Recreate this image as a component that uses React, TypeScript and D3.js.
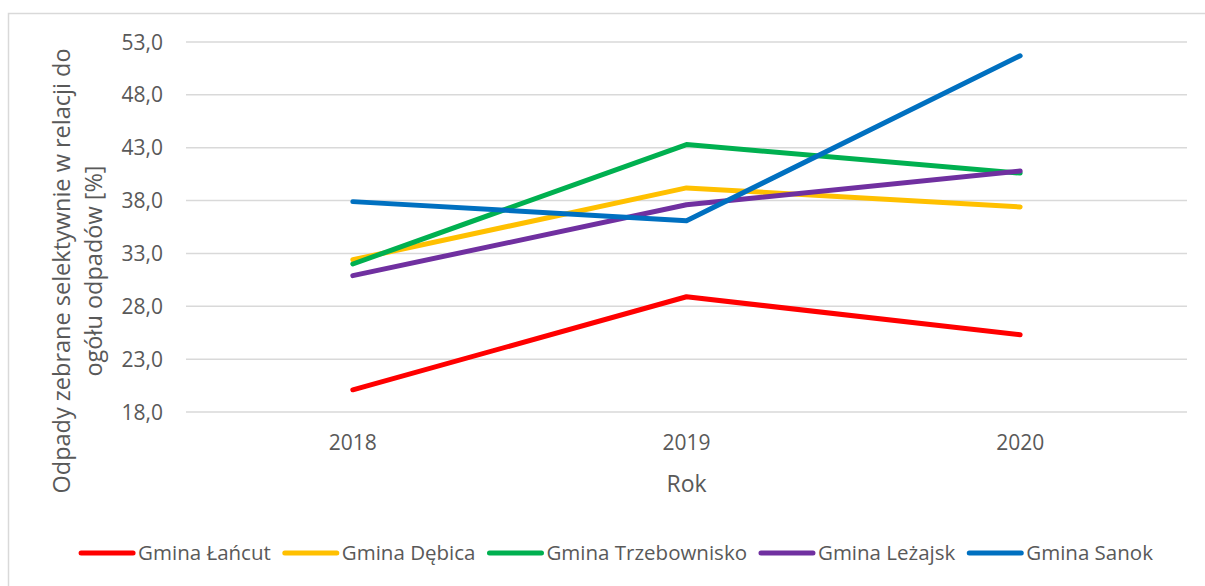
import React, { useEffect, useRef } from "react";
import * as d3 from "d3";

const years = ["2018", "2019", "2020"];
const seriesNames = ["Gmina Łańcut", "Gmina Dębica", "Gmina Trzebownisko", "Gmina Leżajsk", "Gmina Sanok"];
const seriesColors = ["#FF0000", "#FFC000", "#00B050", "#7030A0", "#0070C0"];
const lancut = [20.1, 28.9, 25.3];
const debica = [32.4, 39.2, 37.4];
const trzebownisko = [32.0, 43.3, 40.6];
const lezajsk = [30.9, 37.6, 40.8];
const sanok = [37.9, 36.1, 51.7];
const yTicks = [18, 23, 28, 33, 38, 43, 48, 53];
const yTitle = ["Odpady zebrane selektywnie w relacji do", "ogółu odpadów [%]"];
const xTitle = "Rok";

const W = 1205;
const H = 586;
const FONT = "'Open Sans', sans-serif";
const TEXT = "#595959";
const GRID = "#D9D9D9";

export default function App() {
  const ref = useRef<SVGSVGElement | null>(null);

  useEffect(() => {
    const svg = d3.select(ref.current);
    svg.selectAll("*").remove();
    const values = [lancut, debica, trzebownisko, lezajsk, sanok];

    const x = d3.scalePoint<string>().domain(years).range([186, 1187]).padding(0.5);
    const y = d3.scaleLinear().domain([18, 53]).range([412, 42]);

    // chart frame
    svg.append("rect").attr("x", 8.5).attr("y", 13.5).attr("width", 1210).attr("height", 590)
      .attr("fill", "#fff").attr("stroke", GRID).attr("stroke-width", 1.5);

    // grid
    svg.append("g").selectAll("line").data(yTicks).join("line")
      .attr("x1", 186).attr("x2", 1187)
      .attr("y1", (d) => y(d)).attr("y2", (d) => y(d))
      .attr("stroke", GRID).attr("stroke-width", 1.5);

    // y tick labels
    svg.append("g").selectAll("text").data(yTicks).join("text")
      .attr("x", 163).attr("y", (d) => y(d))
      .attr("dy", "0.36em")
      .attr("text-anchor", "end")
      .attr("font-family", FONT).attr("font-size", 21).attr("fill", TEXT)
      .text((d) => d.toFixed(1).replace(".", ","));

    // x labels
    svg.append("g").selectAll("text").data(years).join("text")
      .attr("x", (d) => x(d)!).attr("y", 450)
      .attr("text-anchor", "middle")
      .attr("font-family", FONT).attr("font-size", 21).attr("fill", TEXT)
      .text((d) => d);

    // x title
    svg.append("text").attr("x", (186 + 1187) / 2).attr("y", 492)
      .attr("text-anchor", "middle")
      .attr("font-family", FONT).attr("font-size", 23).attr("fill", TEXT)
      .text(xTitle);

    // y title
    const yt = svg.append("text")
      .attr("transform", "translate(0,271) rotate(-90)")
      .attr("text-anchor", "middle")
      .attr("font-family", FONT).attr("font-size", 23.5).attr("fill", TEXT);
    yTitle.forEach((t, i) => {
      yt.append("tspan").attr("x", 0).attr("y", 70 + i * 32).text(t);
    });

    // lines
    const line = d3.line<number>()
      .x((_, i) => x(years[i])!)
      .y((d) => y(d));
    svg.append("g").selectAll("path").data(values).join("path")
      .attr("d", (d) => line(d))
      .attr("fill", "none")
      .attr("stroke", (_, i) => seriesColors[i])
      .attr("stroke-width", 5)
      .attr("stroke-linecap", "round")
      .attr("stroke-linejoin", "round");

    // legend
    const lg = svg.append("g");
    const swatch = 56;
    const gapText = 3;
    const gapItem = 12;
    const items = seriesNames.map((name, i) => {
      const g = lg.append("g");
      g.append("line").attr("x1", 2).attr("x2", swatch - 2).attr("y1", 0).attr("y2", 0)
        .attr("stroke", seriesColors[i]).attr("stroke-width", 5).attr("stroke-linecap", "round");
      const t = g.append("text").attr("x", swatch + gapText).attr("y", 0).attr("dy", "0.36em")
        .attr("font-family", FONT).attr("font-size", 20.5).attr("fill", TEXT).text(name);
      const w = (t.node() as SVGTextElement).getComputedTextLength();
      return { g, w: swatch + gapText + w };
    });
    const total = d3.sum(items, (d) => d.w) + gapItem * (items.length - 1);
    let cx = 616 - total / 2;
    items.forEach((it) => {
      it.g.attr("transform", `translate(${cx},553)`);
      cx += it.w + gapItem;
    });
  }, []);

  return (
    <svg ref={ref} width={W} height={H}
      style={{ position: "absolute", left: 0, top: 0, background: "#fff" }} />
  );
}
